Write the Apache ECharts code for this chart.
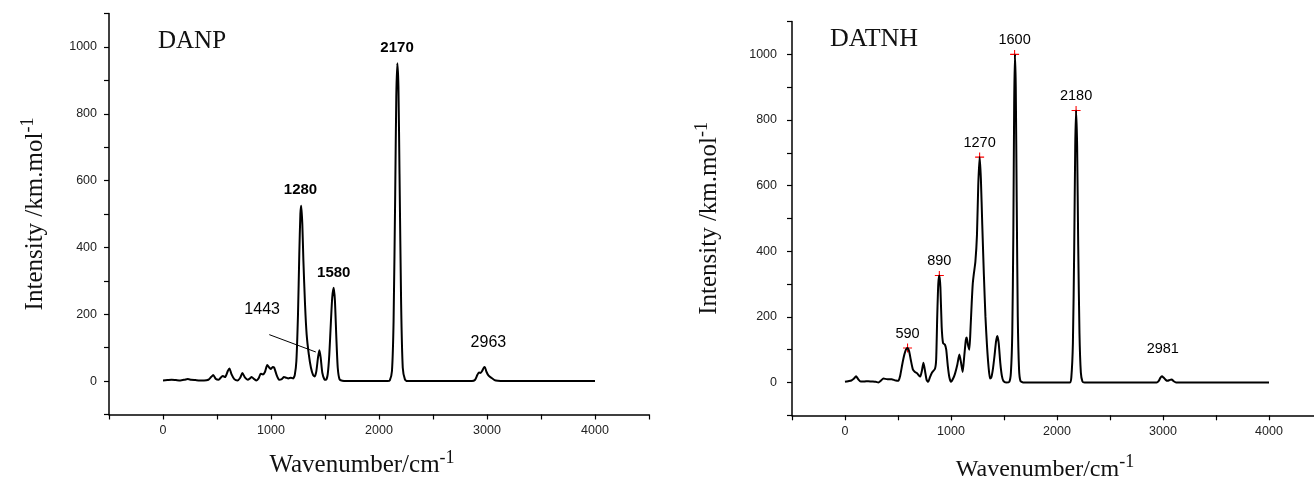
<!DOCTYPE html>
<html>
<head>
<meta charset="utf-8">
<script src="https://cdn.jsdelivr.net/npm/echarts@6/dist/echarts.min.js"></script>
<style>
html,body{margin:0;padding:0;background:#fff;}
#c{width:1314px;height:480px;}
</style>
</head>
<body>
<div id="c"></div>
<script>
// ---------- DANP spectrum ----------
const danpX = [0,40,80,120,160,200,230,260,300,340,380,420,445,465,490,515,540,555,575,600,615,635,660,690,715,735,760,785,805,820,845,865,885,905,925,945,965,985,1000,1015,1030,1050,1075,1100,1120,1140,1160,1185,1205,1220,1235,1250,1262,1272,1280,1290,1300,1315,1330,1350,1370,1390,1405,1420,1435,1448,1460,1475,1495,1510,1525,1540,1555,1567,1580,1592,1605,1618,1635,1660,1700,2080,2100,2120,2135,2150,2160,2170,2180,2190,2205,2220,2240,2260,2860,2890,2910,2925,2940,2955,2970,2980,2995,3015,3040,3070,3100,3150,4000];
const danpY = [2,3,4,3,2,4,6,4,3,2,2,4,12,18,6,4,12,15,12,30,38,20,6,2,10,24,10,4,8,12,6,2,8,22,20,28,48,40,36,42,40,20,4,6,12,10,8,10,8,18,60,200,380,500,525,470,360,230,140,80,40,18,14,30,70,92,70,25,5,4,20,80,180,250,279,240,130,40,5,1,0,0,2,30,180,560,850,951,880,620,230,40,5,0,0,4,18,26,24,30,40,42,28,16,10,3,1,0,0];

// DANP annotations (text, anchor wavenumber, anchor intensity)
const danpLabelText = ['2170','1280','1580','1443','2963'];
const danpLabelX = [2167,1273,1581,918,3013];
const danpLabelY = [996,573,324,214,116];
// arrow from the 1443 label to its peak
const danpArrowFrom = [984,139];
const danpArrowTo = [1415,87];

// ---------- DATNH spectrum ----------
const datnhX = [0,30,60,85,104,125,148,180,220,250,290,315,340,362,400,440,470,503,520,540,560,575,590,605,620,640,660,680,695,710,725,740,755,770,785,800,820,849,860,870,880,890,900,912,925,943,955,970,985,1000,1020,1038,1060,1079,1095,1110,1125,1140,1148,1160,1173,1185,1195,1205,1215,1230,1245,1257,1270,1282,1295,1310,1325,1340,1355,1368,1380,1395,1410,1425,1437,1450,1465,1480,1494,1520,1550,1565,1578,1588,1596,1603,1611,1620,1630,1642,1655,1680,2120,2135,2150,2162,2172,2180,2190,2200,2212,2225,2240,2260,2940,2960,2975,2990,3005,3025,3044,3065,3082,3100,3123,4000];
const datnhY = [2,4,6,12,19,10,3,3,4,3,2,0,6,12,10,10,7,5,20,55,85,100,105,95,70,40,32,28,22,18,35,60,35,8,2,15,30,42,70,200,300,326,290,170,120,115,100,50,15,2,12,27,55,85,60,32,80,130,137,115,100,170,240,300,330,368,450,600,687,620,480,330,200,110,45,12,15,40,80,125,142,120,60,20,5,0,2,30,150,450,850,1000,900,550,200,40,5,0,0,15,120,400,720,829,720,420,150,30,3,0,0,5,14,19,15,8,5,8,9,4,0,0];

// DATNH marked peaks
const datnhPeakText = ['590','890','1270','1600','2180'];
const datnhPeakX = [590,890,1270,1600,2180];
const datnhPeakY = [105,326,687,1000,829];
const datnhExtraText = ['2981'];
const datnhExtraX = [2998];
const datnhExtraY = [103];

// axis ticks
const xTickLabels = [0,1000,2000,3000,4000];
const yTickLabels = [0,200,400,600,800,1000];

const pairs = (xs, ys) => xs.map((x, i) => [x, ys[i]]);

const SERIF = 'Liberation Serif';
const SANS = 'Liberation Sans';
const INK = '#111';

function xAxisCfg(gi, padRight, nameSize, nameGap) {
  return {
    type: 'value', gridIndex: gi, min: -500, max: 4500, interval: 500,
    axisLine: {show: true, onZero: false, lineStyle: {color: '#000', width: 1.5}},
    axisTick: {show: true, inside: false, length: 5, lineStyle: {color: '#000', width: 1.2}},
    axisLabel: {show: true, margin: 10, color: '#222', fontFamily: SANS, fontSize: 12.5,
      formatter: v => xTickLabels.includes(v) ? String(v) : ''},
    splitLine: {show: false},
    name: '{a|Wavenumber/cm}{s|-1}', nameLocation: 'middle', nameGap: nameGap,
    nameTextStyle: {
      padding: [0, padRight, 0, 0],
      rich: {
        a: {fontFamily: SERIF, fontSize: nameSize, color: INK},
        s: {fontFamily: SERIF, fontSize: 18, color: INK, padding: [0, 0, 14, 0]}
      }
    }
  };
}
function yAxisCfg(gi, nameGap, labelMargin) {
  return {
    type: 'value', gridIndex: gi, min: -100, max: 1100, interval: 100,
    axisLine: {show: true, onZero: false, lineStyle: {color: '#000', width: 1.5}},
    axisTick: {show: true, inside: false, length: 5, lineStyle: {color: '#000', width: 1.2}},
    axisLabel: {show: true, margin: labelMargin, color: '#222', fontFamily: SANS, fontSize: 12.5,
      formatter: v => yTickLabels.includes(v) ? String(v) : ''},
    splitLine: {show: false},
    name: '{a|Intensity /km.mol}{s|-1}', nameLocation: 'middle', nameRotate: 90, nameGap: nameGap,
    nameTextStyle: {
      rich: {
        a: {fontFamily: SERIF, fontSize: 25, color: INK},
        s: {fontFamily: SERIF, fontSize: 18, color: INK, padding: [0, 0, 14, 0]}
      }
    }
  };
}

const plusPath = 'path://M4.4,0H5.6V10H4.4Z M0,4.4H10V5.6H0Z';

const chart = echarts.init(document.getElementById('c'), null, {renderer: 'canvas'});
chart.setOption({
  animation: false,
  backgroundColor: '#fff',
  title: [
    {text: 'DANP', left: 158, top: 29, padding: 0,
     textStyle: {fontFamily: SERIF, fontSize: 25, fontWeight: 'normal', color: INK}},
    {text: 'DATNH', left: 830, top: 26, padding: 0,
     textStyle: {fontFamily: SERIF, fontSize: 26, fontWeight: 'normal', color: INK}}
  ],
  grid: [
    {left: 109, top: 13.5, width: 540, height: 401, containLabel: false, outerBoundsMode: 'none'},
    {left: 792, top: 21.6, width: 530, height: 393.7, containLabel: false, outerBoundsMode: 'none'}
  ],
  xAxis: [xAxisCfg(0, 34, 25, 35), xAxisCfg(1, 24, 24, 38)],
  yAxis: [yAxisCfg(0, 58, 12), yAxisCfg(1, 67, 15)],
  series: [
    {
      type: 'line', xAxisIndex: 0, yAxisIndex: 0,
      data: pairs(danpX, danpY), showSymbol: false, smooth: 0.2,
      lineStyle: {color: '#000', width: 2}, silent: true,
      markLine: {
        silent: true, symbol: ['none', 'arrow'], symbolSize: [0, 7],
        label: {show: false},
        lineStyle: {color: '#000', width: 1, type: 'solid'},
        data: [[{coord: danpArrowFrom}, {coord: danpArrowTo}]]
      }
    },
    {
      type: 'scatter', xAxisIndex: 0, yAxisIndex: 0, symbolSize: 0, silent: true,
      itemStyle: {opacity: 1},
      data: danpLabelText.map((t, i) => ({
        name: t, value: [danpLabelX[i], danpLabelY[i]],
        label: i < 3 ? {fontWeight: 'bold', fontSize: 15} : {fontWeight: 'normal', fontSize: 16}
      })),
      label: {show: true, position: 'inside', formatter: p => p.name,
        fontFamily: SANS, color: '#000'}
    },
    {
      type: 'line', xAxisIndex: 1, yAxisIndex: 1,
      data: pairs(datnhX, datnhY), showSymbol: false, smooth: 0.2,
      lineStyle: {color: '#000', width: 2}, silent: true
    },
    {
      type: 'scatter', xAxisIndex: 1, yAxisIndex: 1, symbol: plusPath, symbolSize: 9, silent: true,
      itemStyle: {color: '#ff0000', opacity: 1},
      data: datnhPeakText.map((t, i) => ({name: t, value: [datnhPeakX[i], datnhPeakY[i]]})),
      label: {show: true, position: 'inside', offset: [0, -14.5], formatter: p => p.name,
        fontFamily: SANS, fontSize: 14.5, color: '#000'}
    },
    {
      type: 'scatter', xAxisIndex: 1, yAxisIndex: 1, symbolSize: 0, silent: true,
      itemStyle: {opacity: 1},
      data: datnhExtraText.map((t, i) => ({name: t, value: [datnhExtraX[i], datnhExtraY[i]]})),
      label: {show: true, position: 'inside', formatter: p => p.name,
        fontFamily: SANS, fontSize: 14.5, color: '#000'}
    }
  ]
});
</script>
</body>
</html>
